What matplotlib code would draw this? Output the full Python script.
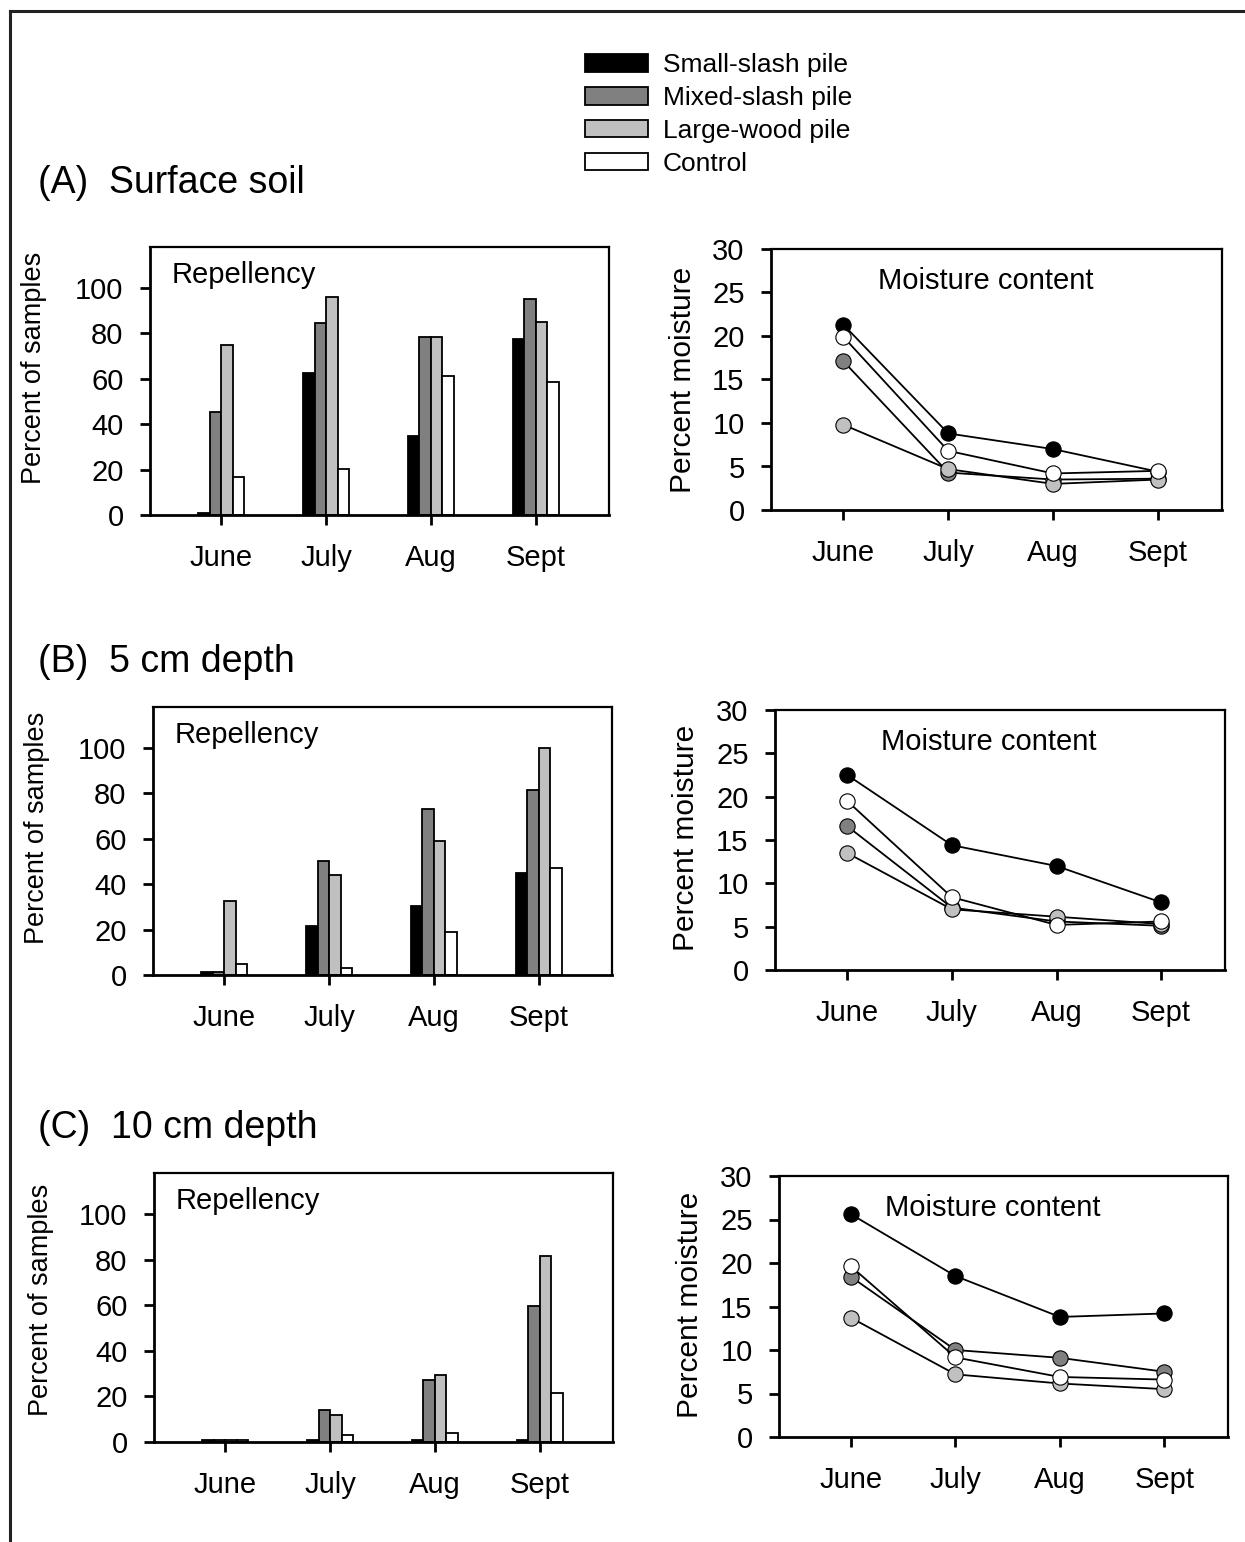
import matplotlib
matplotlib.use('Agg')
import matplotlib.pyplot as plt
import numpy as np
from matplotlib.patches import Patch
from matplotlib.lines import Line2D

plt.rcParams['font.family'] = ['Liberation Sans', 'DejaVu Sans']

# ---------------- data ----------------
months = ['June', 'July', 'Aug', 'Sept']
series = ['Small-slash pile', 'Mixed-slash pile', 'Large-wood pile', 'Control']
colors = ['#000000', '#808080', '#c0c0c0', '#ffffff']

panel_titles = ['(A)  Surface soil', '(B)  5 cm depth', '(C)  10 cm depth']

# Repellency (percent of samples); rows = series, cols = months
rep_surface = [[0.9, 62.4, 34.9, 77.5],
               [45.3, 84.4, 78.4, 95.3],
               [74.9, 95.9, 78.4, 84.8],
               [16.8, 20.3, 61.3, 58.6]]
rep_5cm = [[1.2, 21.5, 30.2, 45.1],
           [1.3, 50.4, 72.9, 81.3],
           [32.4, 44.1, 59.0, 100.0],
           [5.0, 2.9, 19.0, 46.9]]
rep_10cm = [[0.9, 1.0, 1.0, 1.0],
            [0.9, 13.9, 27.1, 59.7],
            [0.9, 12.0, 29.6, 81.4],
            [0.9, 3.1, 4.0, 21.5]]

# Moisture content (percent); rows = series, cols = months
moist_surface = [[21.3, 8.8, 7.0, 4.4],
                 [17.1, 4.3, 3.5, 3.6],
                 [9.8, 4.7, 3.0, 3.5],
                 [19.9, 6.8, 4.2, 4.5]]
moist_5cm = [[22.5, 14.4, 12.0, 7.8],
             [16.6, 7.2, 5.6, 5.1],
             [13.5, 7.0, 6.15, 5.3],
             [19.5, 8.4, 5.2, 5.6]]
moist_10cm = [[25.6, 18.5, 13.8, 14.2],
              [18.4, 10.0, 9.1, 7.5],
              [13.7, 7.2, 6.15, 5.5],
              [19.6, 9.15, 6.9, 6.6]]

rep_ticks = [0, 20, 40, 60, 80, 100]
moist_ticks = [0, 5, 10, 15, 20, 25, 30]

# ---------------- layout ----------------
W, H = 1245, 1542
fig = plt.figure(figsize=(W / 100, H / 100), dpi=100)


def pos(l, t, r, b):
    return [l / W, 1 - b / H, (r - l) / W, (b - t) / H]


bar_boxes = [(150, 247, 609, 515), (153, 707, 612, 975), (154, 1173, 613, 1442)]
line_boxes = [(771, 249, 1222, 510), (775, 710, 1225, 970), (779, 1176, 1228, 1437)]
title_y = [183, 662, 1128]
rep_label_xy = [(-0.224, 0.55), (-0.224, 0.55), (-0.218, 0.53)]
moist_label_xy = [(-0.164, 0.50), (-0.167, 0.51), (-0.167, 0.506)]

rep_data = [rep_surface, rep_5cm, rep_10cm]
moist_data = [moist_surface, moist_5cm, moist_10cm]

x = np.arange(1, len(months) + 1)
bw = 0.11
FS = 21


def style_axes(ax):
    for s in ['left', 'bottom']:
        ax.spines[s].set_linewidth(2.0)
    for s in ['top', 'right']:
        ax.spines[s].set_linewidth(1.6)
    ax.tick_params(direction='out', length=7, width=2.0, labelsize=FS, pad=12)
    ax.tick_params(axis='x', pad=14)


for i in range(3):
    # bar chart
    ax = fig.add_axes(pos(*bar_boxes[i]))
    data = rep_data[i]
    for k in range(4):
        ax.bar(x + (k - 1.5) * bw, data[k], width=bw, color=colors[k],
               edgecolor='black', linewidth=1.3, zorder=2)
    ax.set_xlim(0.32, 4.70)
    ax.set_ylim(0, 118)
    ax.set_yticks(rep_ticks)
    ax.set_xticks(x)
    ax.set_xticklabels(months)
    style_axes(ax)
    ax.set_ylabel('Percent of samples', fontsize=19.5)
    ax.yaxis.set_label_coords(*rep_label_xy[i])
    ax.text(0.048, 0.895, 'Repellency', transform=ax.transAxes, fontsize=21,
            ha='left', va='center')

    # line chart
    ax2 = fig.add_axes(pos(*line_boxes[i]))
    md = moist_data[i]
    for k in range(4):
        ax2.plot(x, md[k], '-o', color='black', lw=1.3, ms=11,
                 markerfacecolor=colors[k], markeredgecolor='black',
                 markeredgewidth=0.8, zorder=3 + k, clip_on=False)
    ax2.set_xlim(0.31, 4.61)
    ax2.set_ylim(0, 30)
    ax2.set_yticks(moist_ticks)
    ax2.set_xticks(x)
    ax2.set_xticklabels(months)
    style_axes(ax2)
    ax2.set_ylabel('Percent moisture', fontsize=21.5)
    ax2.yaxis.set_label_coords(*moist_label_xy[i])
    ax2.text(0.476, 0.876, 'Moisture content', transform=ax2.transAxes,
             fontsize=21, ha='center', va='center')

    # panel title
    fig.text(38 / W, 1 - title_y[i] / H, panel_titles[i], fontsize=27,
             ha='left', va='center')

# legend
handles = [Patch(facecolor=c, edgecolor='black', linewidth=1.3) for c in colors]
fig.legend(handles, series, loc='upper left',
           bbox_to_anchor=(585 / W, 1 - 53 / H), frameon=False, fontsize=19,
           handlelength=2.39, handleheight=0.65, labelspacing=0.34,
           handletextpad=0.55, borderpad=0, borderaxespad=0)

# outer frame (left and top edges)
fig.add_artist(Line2D([10 / W, 10 / W], [0, 1 - 11 / H], color='#222222',
                      lw=2.2, transform=fig.transFigure))
fig.add_artist(Line2D([10 / W, 1], [1 - 11 / H, 1 - 11 / H], color='#222222',
                      lw=2.2, transform=fig.transFigure))

fig.savefig('out.png', dpi=100)
